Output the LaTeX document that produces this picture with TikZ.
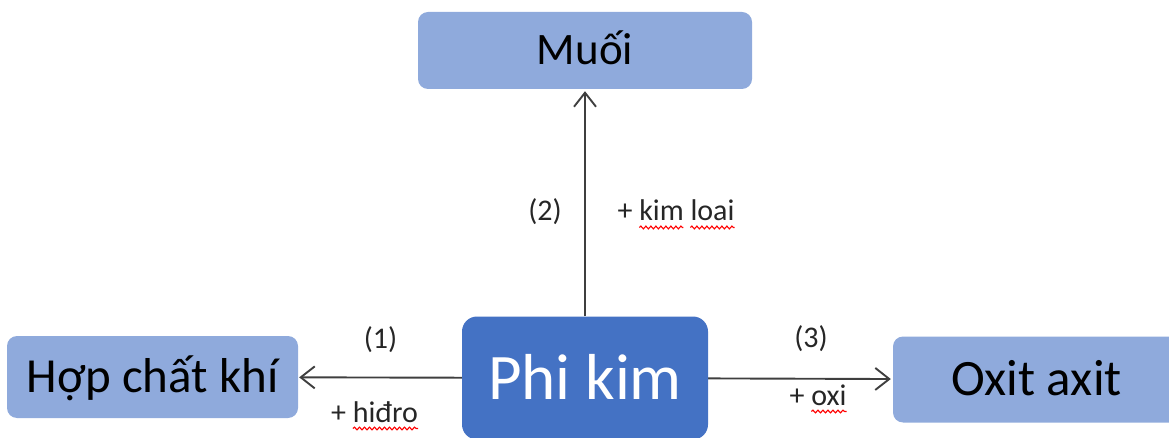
\documentclass[tikz,border=0pt]{standalone}
\usepackage{fontspec}
\setmainfont{Carlito}
\usetikzlibrary{arrows.meta}
\usetikzlibrary{decorations.pathmorphing}
\pgfdeclarelayer{edgelayer}
\pgfdeclarelayer{nodelayer}
\pgfsetlayers{edgelayer,nodelayer,main}
\definecolor{lightbox}{HTML}{8FAADC}
\definecolor{darkbox}{HTML}{4472C4}
\definecolor{arrowgrey}{HTML}{3F3F3F}
\definecolor{tagtext}{HTML}{262626}
\tikzstyle{product}=[rectangle,rounded corners=10pt,fill=lightbox,text=black,inner sep=0pt,font=\fontsize{45}{50}\selectfont,text height=29pt,text depth=0pt]
\tikzstyle{element}=[rectangle,rounded corners=15pt,fill=darkbox,text=white,inner sep=0pt,font=\fontsize{65}{70}\selectfont,text height=42pt,text depth=0pt]
\tikzstyle{reaction}=[-{Straight Barb[length=14pt,width=22pt]},draw=arrowgrey,line width=1.9pt]
\tikzstyle{tag}=[anchor=base,inner sep=0pt,text=tagtext,font=\fontsize{30}{34}\selectfont]
\tikzstyle{spell}=[draw=red,line width=1.1pt,decorate,decoration={snake,amplitude=1.4pt,segment length=5pt}]

\begin{document}
\begin{tikzpicture}[x=1pt,y=1pt]
	\clip (0, 0) rectangle (1169, -438);
	\begin{pgfonlayer}{nodelayer}
		\node [style=product, minimum width=334, minimum height=77] (muoi) at (585, -50.5) {Muối};
		\node [style=product, minimum width=291, minimum height=82, font=\fontsize{49}{54}\selectfont, text height=30pt] (hopchat) at (152.5, -377) {Hợp chất khí};
		\node [style=element, minimum width=246, minimum height=123] (phikim) at (585, -378) {Phi kim};
		\node [style=product, minimum width=287, minimum height=86, font=\fontsize{51}{56}\selectfont, text height=32pt] (oxit) at (1036.5, -379.5) {Oxit axit};
		\node [style=tag] (n1) at (380.5, -348) {(1)};
		\node [style=tag] (h1) at (374.5, -422) {+ hiđro};
		\node [style=tag] (n2) at (545, -221) {(2)};
		\node [style=tag] (h2) at (676, -221) {+ kim loai};
		\node [style=tag] (n3) at (811, -347) {(3)};
		\node [style=tag] (h3) at (818, -405) {+ oxi};
	\end{pgfonlayer}
	\begin{pgfonlayer}{edgelayer}
		\draw [style=reaction, shorten >=1pt] (phikim) to (hopchat);
		\draw [style=reaction, shorten >=2pt] (phikim) to (muoi);
		\draw [style=reaction, shorten >=2pt] (phikim) to (oxit);
		% spelling marks under the words
		\draw [style=spell] ([xshift=22pt, yshift=-6.5pt]h1.base west) -- ([yshift=-6.5pt]h1.base east);
		\draw [style=spell] ([xshift=22pt, yshift=-6.5pt]h2.base west) -- ([xshift=66pt, yshift=-6.5pt]h2.base west);
		\draw [style=spell] ([xshift=73pt, yshift=-6.5pt]h2.base west) -- ([yshift=-6.5pt]h2.base east);
		\draw [style=spell] ([xshift=22pt, yshift=-6.5pt]h3.base west) -- ([yshift=-6.5pt]h3.base east);
	\end{pgfonlayer}
\end{tikzpicture}
\end{document}
